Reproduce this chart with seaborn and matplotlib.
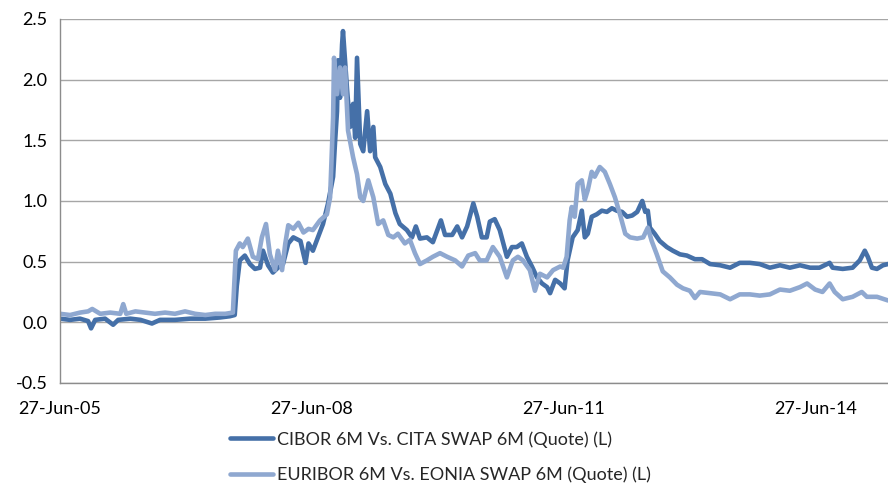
import pandas as pd
import numpy as np
import matplotlib
matplotlib.use("Agg")
import matplotlib.pyplot as plt
import matplotlib.dates as mdates
import seaborn as sns

# --- data ---
cibor_dates = [
    "2005-06-27", "2005-08-10", "2005-09-22", "2005-10-27", "2005-11-09", "2005-11-27",
    "2006-01-09", "2006-02-13", "2006-03-07", "2006-04-29", "2006-06-12", "2006-08-01",
    "2006-09-05", "2006-11-09", "2007-01-14", "2007-03-21", "2007-05-25", "2007-07-06",
    "2007-07-27", "2007-08-05", "2007-08-18", "2007-09-09", "2007-10-01", "2007-10-23",
    "2007-11-14", "2007-11-27", "2007-12-19", "2008-01-09", "2008-01-31", "2008-02-22",
    "2008-03-16", "2008-04-07", "2008-05-08", "2008-05-30", "2008-06-12", "2008-07-01",
    "2008-07-23", "2008-08-14", "2008-09-05", "2008-09-27", "2008-10-05", "2008-10-14",
    "2008-10-19", "2008-10-27", "2008-11-05", "2008-11-09", "2008-11-18", "2008-11-27",
    "2008-12-10", "2008-12-23", "2009-01-01", "2009-01-09", "2009-01-23", "2009-02-05",
    "2009-02-22", "2009-03-07", "2009-03-21", "2009-03-29", "2009-04-20", "2009-05-12",
    "2009-06-03", "2009-06-25", "2009-07-14", "2009-08-14", "2009-09-05", "2009-09-22",
    "2009-10-10", "2009-11-09", "2009-12-05", "2010-01-09", "2010-01-27", "2010-02-27",
    "2010-03-21", "2010-04-11", "2010-05-03", "2010-05-30", "2010-06-16", "2010-07-06",
    "2010-07-27", "2010-08-10", "2010-08-31", "2010-09-22", "2010-10-23", "2010-11-14",
    "2010-12-05", "2010-12-27", "2011-01-18", "2011-02-09", "2011-03-03", "2011-03-25",
    "2011-04-16", "2011-04-29", "2011-05-21", "2011-06-12", "2011-07-01", "2011-07-14",
    "2011-08-05", "2011-08-27", "2011-09-14", "2011-09-27", "2011-10-10", "2011-10-27",
    "2011-11-18", "2011-12-10", "2012-01-01", "2012-01-23", "2012-02-13", "2012-03-07",
    "2012-03-29", "2012-04-20", "2012-05-12", "2012-06-03", "2012-06-16", "2012-06-27",
    "2012-07-06", "2012-07-27", "2012-08-18", "2012-09-18", "2012-10-14", "2012-11-14",
    "2012-12-14", "2013-01-18", "2013-02-18", "2013-03-25", "2013-05-08", "2013-06-20",
    "2013-08-01", "2013-09-14", "2013-10-27", "2013-12-10", "2014-01-23", "2014-03-07",
    "2014-04-20", "2014-06-03", "2014-07-14", "2014-08-27", "2014-09-09", "2014-10-23",
    "2014-12-05", "2015-01-05", "2015-01-27", "2015-02-09", "2015-02-27", "2015-03-21",
    "2015-04-16", "2015-05-08",
]
cibor_values = [
    0.03, 0.02, 0.03, 0.01, -0.05, 0.02,
    0.03, -0.02, 0.02, 0.03, 0.02, -0.01,
    0.02, 0.02, 0.03, 0.03, 0.04, 0.05,
    0.06, 0.30, 0.51, 0.55, 0.48, 0.44,
    0.45, 0.59, 0.47, 0.41, 0.45, 0.48,
    0.65, 0.70, 0.67, 0.49, 0.65, 0.59,
    0.70, 0.81, 0.98, 1.20, 1.47, 1.74,
    2.16, 1.85, 2.29, 2.40, 2.16, 1.91,
    1.61, 1.80, 1.52, 2.18, 1.47, 1.41,
    1.74, 1.41, 1.61, 1.36, 1.28, 1.14,
    1.06, 0.90, 0.81, 0.76, 0.70, 0.79,
    0.69, 0.70, 0.66, 0.84, 0.72, 0.72,
    0.79, 0.70, 0.79, 0.98, 0.87, 0.70,
    0.70, 0.83, 0.85, 0.76, 0.54, 0.62,
    0.62, 0.65, 0.54, 0.46, 0.37, 0.32,
    0.29, 0.24, 0.35, 0.32, 0.28, 0.51,
    0.70, 0.76, 0.92, 0.70, 0.73, 0.87,
    0.89, 0.92, 0.91, 0.94, 0.92, 0.91,
    0.87, 0.88, 0.91, 1.00, 0.91, 0.92,
    0.78, 0.73, 0.67, 0.62, 0.59, 0.56,
    0.55, 0.52, 0.52, 0.48, 0.47, 0.45,
    0.49, 0.49, 0.48, 0.45, 0.47, 0.45,
    0.47, 0.45, 0.45, 0.49, 0.45, 0.44,
    0.45, 0.51, 0.59, 0.54, 0.45, 0.44,
    0.47, 0.48,
]

euribor_dates = [
    "2005-06-27", "2005-08-10", "2005-09-22", "2005-10-27", "2005-11-14", "2005-12-19",
    "2006-01-31", "2006-03-16", "2006-03-29", "2006-04-11", "2006-05-21", "2006-07-01",
    "2006-08-14", "2006-09-27", "2006-11-09", "2006-12-23", "2007-02-05", "2007-03-21",
    "2007-05-03", "2007-06-16", "2007-07-19", "2007-08-01", "2007-08-18", "2007-08-31",
    "2007-09-22", "2007-10-14", "2007-11-05", "2007-11-22", "2007-12-10", "2007-12-27",
    "2008-01-18", "2008-01-31", "2008-02-18", "2008-03-03", "2008-03-16", "2008-04-07",
    "2008-04-29", "2008-05-21", "2008-06-12", "2008-07-01", "2008-08-01", "2008-08-31",
    "2008-09-14", "2008-09-27", "2008-10-01", "2008-10-14", "2008-10-27", "2008-11-09",
    "2008-11-18", "2008-12-01", "2008-12-23", "2009-01-09", "2009-01-23", "2009-02-05",
    "2009-02-27", "2009-03-21", "2009-04-11", "2009-05-03", "2009-05-25", "2009-06-16",
    "2009-07-06", "2009-08-05", "2009-08-27", "2009-09-18", "2009-10-10", "2009-11-09",
    "2009-12-05", "2010-01-05", "2010-02-05", "2010-03-12", "2010-04-11", "2010-05-08",
    "2010-06-07", "2010-06-27", "2010-07-27", "2010-08-23", "2010-09-22", "2010-10-23",
    "2010-11-18", "2010-12-10", "2011-01-01", "2011-01-31", "2011-02-22", "2011-03-16",
    "2011-04-16", "2011-05-12", "2011-06-12", "2011-06-25", "2011-07-10", "2011-07-23",
    "2011-08-01", "2011-08-14", "2011-08-27", "2011-09-14", "2011-09-27", "2011-10-10",
    "2011-10-27", "2011-11-09", "2011-12-01", "2011-12-23", "2012-01-14", "2012-02-05",
    "2012-02-27", "2012-03-21", "2012-04-11", "2012-05-12", "2012-06-07", "2012-06-27",
    "2012-07-14", "2012-08-05", "2012-08-31", "2012-10-01", "2012-11-01", "2012-11-27",
    "2012-12-27", "2013-01-18", "2013-02-09", "2013-03-25", "2013-05-08", "2013-06-20",
    "2013-08-01", "2013-09-14", "2013-10-27", "2013-12-10", "2014-01-23", "2014-03-07",
    "2014-04-20", "2014-05-21", "2014-06-25", "2014-07-27", "2014-08-27", "2014-09-18",
    "2014-10-23", "2014-12-05", "2015-01-14", "2015-02-05", "2015-03-21", "2015-05-08",
]
euribor_values = [
    0.07, 0.06, 0.08, 0.09, 0.11, 0.07,
    0.08, 0.07, 0.15, 0.07, 0.09, 0.08,
    0.07, 0.08, 0.07, 0.09, 0.07, 0.06,
    0.07, 0.07, 0.08, 0.59, 0.65, 0.62,
    0.69, 0.54, 0.52, 0.70, 0.81, 0.56,
    0.43, 0.59, 0.43, 0.65, 0.80, 0.77,
    0.82, 0.74, 0.77, 0.76, 0.84, 0.89,
    1.03, 1.69, 2.18, 1.88, 2.10, 1.88,
    2.10, 1.58, 1.36, 1.22, 1.03, 1.00,
    1.17, 1.03, 0.81, 0.84, 0.72, 0.70,
    0.73, 0.65, 0.68, 0.57, 0.48, 0.51,
    0.54, 0.57, 0.54, 0.51, 0.46, 0.55,
    0.57, 0.51, 0.51, 0.62, 0.54, 0.37,
    0.51, 0.54, 0.51, 0.43, 0.26, 0.40,
    0.37, 0.43, 0.46, 0.45, 0.54, 0.84,
    0.95, 0.87, 1.14, 1.17, 1.01, 1.09,
    1.24, 1.20, 1.28, 1.24, 1.14, 1.03,
    0.89, 0.73, 0.70, 0.69, 0.70, 0.78,
    0.67, 0.56, 0.42, 0.37, 0.31, 0.28,
    0.26, 0.20, 0.25, 0.24, 0.23, 0.19,
    0.23, 0.23, 0.22, 0.23, 0.27, 0.26,
    0.29, 0.32, 0.27, 0.25, 0.32, 0.25,
    0.19, 0.21, 0.25, 0.21, 0.21, 0.18,
]

cibor_label = "CIBOR 6M Vs. CITA SWAP 6M (Quote) (L)"
euribor_label = "EURIBOR 6M Vs. EONIA SWAP 6M (Quote) (L)"
tick_dates = ["2005-06-27", "2008-06-27", "2011-06-27", "2014-06-27"]
y_ticks = [-0.5, 0.0, 0.5, 1.0, 1.5, 2.0, 2.5]

df = pd.concat([
    pd.DataFrame({"date": pd.to_datetime(cibor_dates), "value": cibor_values, "series": cibor_label}),
    pd.DataFrame({"date": pd.to_datetime(euribor_dates), "value": euribor_values, "series": euribor_label}),
], ignore_index=True)

sns.set_style("white")
plt.rcParams["font.family"] = ["Lato", "DejaVu Sans"]

fig = plt.figure(figsize=(8.88, 4.86), dpi=100)
ax = fig.add_axes([0.0676, 0.212, 0.9324, 0.749])

palette = {cibor_label: "#4570a8", euribor_label: "#8fa8d0"}
lw = 3.3
# dark series first, light one drawn on top of it
sns.lineplot(data=df, x="date", y="value", hue="series",
             hue_order=[cibor_label, euribor_label], palette=palette,
             estimator=None, sort=False, linewidth=lw, ax=ax, legend=False)

ax.set_ylim(-0.5, 2.5)
ax.set_xlim(pd.Timestamp("2005-06-27"), pd.Timestamp("2015-05-08"))
ax.set_yticks(y_ticks)
ax.yaxis.set_major_formatter(matplotlib.ticker.FormatStrFormatter("%.1f"))
ax.set_xticks(pd.to_datetime(tick_dates))
ax.xaxis.set_major_formatter(mdates.DateFormatter("%d-%b-%y"))
ax.set_xlabel("")
ax.set_ylabel("")

ax.grid(axis="y", color="#a6a6a6", linewidth=1.0)
ax.grid(axis="x", visible=False)
ax.set_axisbelow(True)
for side in ["top", "right"]:
    ax.spines[side].set_visible(False)
for side in ["left", "bottom"]:
    ax.spines[side].set_color("#8c8c8c")
    ax.spines[side].set_linewidth(1.0)
ax.tick_params(axis="both", which="major", direction="out", length=5, width=1,
               color="#8c8c8c", labelsize=13, labelcolor="black")
ax.tick_params(axis="x", pad=8)
ax.tick_params(axis="y", pad=4)

handles = [
    matplotlib.lines.Line2D([], [], color=palette[cibor_label], linewidth=lw),
    matplotlib.lines.Line2D([], [], color=palette[euribor_label], linewidth=lw),
]
fig.legend(handles, [cibor_label, euribor_label], loc="upper left",
           bbox_to_anchor=(0.259, 0.113), frameon=False, fontsize=13,
           handlelength=2.4, handletextpad=0.2, labelspacing=1.05,
           borderaxespad=0, borderpad=0)

fig.savefig("out.png", dpi=100)
